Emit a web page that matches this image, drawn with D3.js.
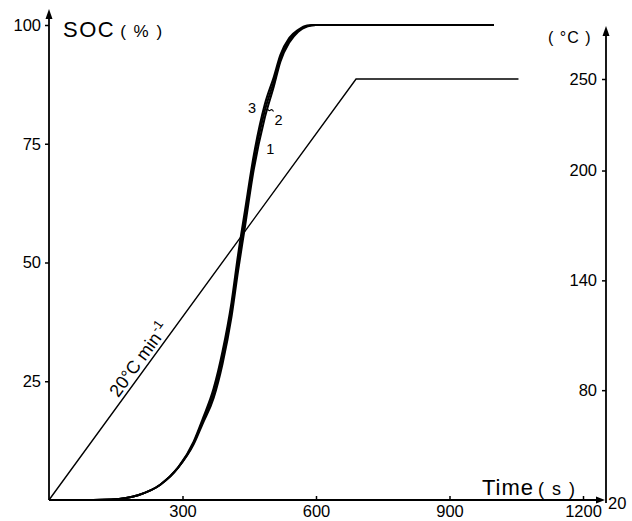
<!DOCTYPE html>
<html>
<head>
<meta charset="utf-8">
<script src="https://cdn.jsdelivr.net/npm/d3@7"></script>
<style>
  html, body { margin: 0; padding: 0; background: #fff; }
  svg { display: block; }
  text { font-family: "Liberation Sans", Arial, sans-serif; fill: #000; }
</style>
</head>
<body>
<svg id="chart" width="632" height="521"></svg>
<script>
// Time axis (s) shared by the three state-of-charge runs
const socTimes = [0, 100, 140, 200, 250, 290, 325, 345, 370, 390, 410, 425, 440, 460, 485, 505, 520, 540, 560, 580, 600, 1000];
// SOC (%) of runs 1, 2, 3
const socRun1 = [0, 0, 0.1, 1, 3.2, 6.8, 11.7, 16, 21.5, 28.7, 38.5, 48.3, 57.3, 69.5, 80.5, 87, 92.3, 96.3, 98.6, 99.7, 100, 100];
const socRun2 = [0, 0, 0.1, 1, 3.2, 6.8, 12, 16.5, 22.5, 30, 40, 50, 59, 71, 82, 88, 93, 96.8, 98.8, 99.8, 100, 100];
const socRun3 = [0, 0, 0.1, 1, 3.2, 6.8, 12.3, 17, 23.5, 31.3, 41.5, 51.7, 60.7, 72.5, 83.3, 89, 93.7, 97.3, 99, 99.9, 100, 100];
const runNames = ["1", "2", "3"];

// Oven programme: 20 °C/min ramp from 20 °C to 250 °C, then hold
const tempTimes = [0, 690, 1055];
const tempValues = [20, 250, 250];

// Tick values
const timeTicks = [300, 600, 900, 1200];
const socTicks = [25, 50, 75, 100];
const tempTicks = [80, 140, 200, 250];

const svg = d3.select("#chart");

const x = d3.scaleLinear().domain([0, 1200]).range([49, 583]);
const ySoc = d3.scaleLinear().domain([0, 100]).range([500, 25]);
const yTemp = d3.scaleLinear().domain([20, 250]).range([500, 79]);

const x0 = x(0), yBase = ySoc(0), xRight = 606;

// ---- axes ----
const axisG = svg.append("g").attr("stroke", "#000").attr("fill", "#000");

// left axis with arrow
axisG.append("line").attr("x1", x0).attr("x2", x0).attr("y1", yBase).attr("y2", 14)
  .attr("stroke-width", 1.8);
axisG.append("path").attr("d", `M${x0},9 L${x0 - 3.5},19 L${x0 + 3.5},19 Z`).attr("stroke", "none");

// bottom axis with arrow
axisG.append("line").attr("x1", x0).attr("x2", xRight - 4).attr("y1", yBase).attr("y2", yBase)
  .attr("stroke-width", 1.8);
axisG.append("path").attr("d", `M${xRight - 1},${yBase} L${xRight - 10},${yBase - 3.5} L${xRight - 10},${yBase + 3.5} Z`).attr("stroke", "none");

// right axis with arrow
axisG.append("line").attr("x1", xRight).attr("x2", xRight).attr("y1", yBase + 3).attr("y2", 31)
  .attr("stroke-width", 1.8);
axisG.append("path").attr("d", `M${xRight},26 L${xRight - 3.5},36 L${xRight + 3.5},36 Z`).attr("stroke", "none");

function styleAxis(g) {
  g.select(".domain").remove();
  g.selectAll(".tick line").attr("stroke", "#000").attr("stroke-width", 1.5);
  g.selectAll(".tick text").attr("font-size", 16.5).attr("fill", "#000")
    .attr("font-family", "'Liberation Sans', Arial, sans-serif");
}

svg.append("g").attr("transform", `translate(${x0},0)`)
  .call(d3.axisLeft(ySoc).tickValues(socTicks).tickSize(4).tickPadding(4).tickFormat(d3.format("d")))
  .call(styleAxis);

svg.append("g").attr("transform", `translate(0,${yBase})`)
  .call(d3.axisBottom(x).tickValues(timeTicks).tickSizeInner(-4).tickSizeOuter(0).tickPadding(5).tickFormat(d3.format("d")))
  .call(styleAxis);

svg.append("g").attr("transform", `translate(${xRight},0)`)
  .call(d3.axisLeft(yTemp).tickValues(tempTicks).tickSize(4).tickPadding(5).tickFormat(d3.format("d")))
  .call(styleAxis);

// lowest temperature label sits to the right of the axis foot
svg.append("text").attr("x", xRight + 2).attr("y", yTemp(20) + 9)
  .attr("font-size", 16.5).text(tempValues[0]);

// ---- axis titles ----
const socTitle = svg.append("text").attr("x", 63).attr("y", 37);
socTitle.append("tspan").attr("font-size", 22).attr("letter-spacing", 1.5).text("SOC");
socTitle.append("tspan").attr("font-size", 17).attr("dx", 5).attr("letter-spacing", 1.5).text("( % )");

svg.append("text").attr("x", 548).attr("y", 43).attr("font-size", 16).attr("letter-spacing", 1)
  .text("( °C )");

const timeTitle = svg.append("text").attr("x", 482).attr("y", 495);
timeTitle.append("tspan").attr("font-size", 22).attr("letter-spacing", 1).text("Time");
timeTitle.append("tspan").attr("font-size", 18).attr("dx", 4).attr("letter-spacing", 1.5).text("( s )");

// ---- temperature programme ----
const tempLine = d3.line().x(d => x(d[0])).y(d => yTemp(d[1]));
svg.append("path")
  .datum(d3.zip(tempTimes, tempValues))
  .attr("d", tempLine)
  .attr("fill", "none").attr("stroke", "#000").attr("stroke-width", 1.4);

// ramp-rate label laid along the ramp
const p0 = [x(tempTimes[0]), yTemp(tempValues[0])];
const p1 = [x(tempTimes[1]), yTemp(tempValues[1])];
const ang = Math.atan2(p1[1] - p0[1], p1[0] - p0[0]) * 180 / Math.PI;
const tLab = 163;
const rampAt = t => tempValues[0] + (tempValues[1] - tempValues[0]) * t / tempTimes[1];
const rampText = svg.append("text")
  .attr("transform", `translate(${x(tLab)},${yTemp(rampAt(tLab))}) rotate(${ang})`)
  .attr("dy", -4).attr("font-size", 18);
rampText.append("tspan").text("20°C min");
rampText.append("tspan").attr("font-size", 13).attr("dy", -7).attr("dx", 1).text("-1");

// ---- SOC curves ----
const socLine = d3.line().curve(d3.curveMonotoneX).x(d => x(d[0])).y(d => ySoc(d[1]));
[socRun1, socRun2, socRun3].forEach(vals => {
  svg.append("path")
    .datum(d3.zip(socTimes, vals))
    .attr("d", socLine)
    .attr("fill", "none").attr("stroke", "#000").attr("stroke-width", 2)
    .attr("stroke-linejoin", "round");
});

// run labels beside the steep part of the curves
const runLabelPos = [
  { name: runNames[0], t: 488, s: 72.8 },
  { name: runNames[1], t: 507, s: 79 },
  { name: runNames[2], t: 447, s: 81.5 }
];
runLabelPos.forEach(d => {
  svg.append("text").attr("x", x(d.t)).attr("y", ySoc(d.s))
    .attr("font-size", 14.5).text(d.name);
});
// small leader from label 2 to its curve
svg.append("path")
  .attr("d", `M${x(491)},${ySoc(82.3)} q1.5,2.5 3,1 t3,1.5`)
  .attr("fill", "none").attr("stroke", "#000").attr("stroke-width", 1.1);
</script>
</body>
</html>
